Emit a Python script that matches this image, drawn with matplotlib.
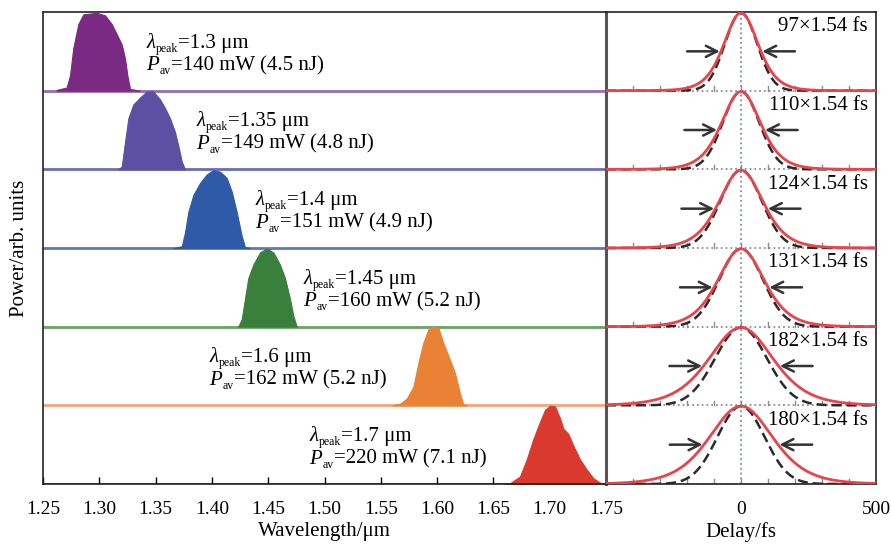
import numpy as np
import matplotlib
matplotlib.use("Agg")
import matplotlib.pyplot as plt
from matplotlib.transforms import offset_copy

plt.rcParams['font.family'] = ['Liberation Serif', 'DejaVu Serif']

# ---- spectra (wavelength in um, normalised power) ----
spec1_wl = [1.2622, 1.2710, 1.2740, 1.2769, 1.2814, 1.2858, 1.2977, 1.3051, 1.3110,
            1.3155, 1.3199, 1.3228, 1.3249, 1.3273, 1.3361]
spec1_p = [0.01, 0.04, 0.196, 0.543, 0.848, 0.97, 0.99, 0.957, 0.848,
           0.717, 0.587, 0.413, 0.196, 0.022, 0.0]

spec2_wl = [1.3169, 1.3199, 1.3228, 1.3258, 1.3302, 1.3361, 1.3421, 1.3480, 1.3539,
            1.3583, 1.3628, 1.3672, 1.3702, 1.3732, 1.3761]
spec2_p = [0.0, 0.035, 0.342, 0.649, 0.825, 0.912, 0.99, 0.99, 0.89,
           0.78, 0.649, 0.474, 0.298, 0.101, 0.0]

spec3_wl = [1.3657, 1.3732, 1.3761, 1.3790, 1.3835, 1.3894, 1.3954, 1.4012, 1.4072,
            1.4131, 1.4176, 1.4220, 1.4265, 1.4294, 1.4338]
spec3_p = [0.0, 0.022, 0.196, 0.457, 0.674, 0.826, 0.935, 0.99, 0.97,
           0.891, 0.717, 0.457, 0.152, 0.009, 0.0]

spec4_wl = [1.4234, 1.4265, 1.4294, 1.4323, 1.4368, 1.4427, 1.4487, 1.4546, 1.4604,
            1.4649, 1.4693, 1.4723, 1.4753]
spec4_p = [0.0, 0.096, 0.357, 0.617, 0.791, 0.943, 0.995, 0.943, 0.791,
           0.617, 0.357, 0.139, 0.0]

spec5_wl = [1.5608, 1.5671, 1.5730, 1.5789, 1.5833, 1.5877, 1.5922, 1.5952, 1.6011,
            1.6055, 1.6114, 1.6159, 1.6203, 1.6233, 1.6260]
spec5_p = [0.0, 0.021, 0.086, 0.236, 0.536, 0.794, 0.966, 0.995, 0.987,
           0.794, 0.579, 0.408, 0.15, 0.013, 0.0]

spec6_wl = [1.6600, 1.6647, 1.6736, 1.6796, 1.6855, 1.6914, 1.6958, 1.7003, 1.7047,
            1.7092, 1.7121, 1.7165, 1.7210, 1.7269, 1.7329, 1.7387, 1.7447, 1.7500]
spec6_p = [0.0, 0.009, 0.096, 0.313, 0.574, 0.791, 0.943, 0.995, 0.987,
           0.835, 0.704, 0.639, 0.487, 0.313, 0.183, 0.074, 0.017, 0.0]

spectra_wl = [spec1_wl, spec2_wl, spec3_wl, spec4_wl, spec5_wl, spec6_wl]
spectra_p = [spec1_p, spec2_p, spec3_p, spec4_p, spec5_p, spec6_p]

peak_wl = ["1.3", "1.35", "1.4", "1.45", "1.6", "1.7"]
avg_power = ["140", "149", "151", "160", "162", "220"]
pulse_energy = ["4.5", "4.8", "4.9", "5.2", "5.2", "7.1"]

# ---- autocorrelation traces ----
pulse_fs = [97, 110, 124, 131, 182, 180]       # deconvolved durations
deconv = 1.54                                   # sech^2 deconvolution factor
tl_fwhm_fs = [140, 158, 180, 190, 225, 205]     # transform-limited trace widths

wl_ticks = [1.25, 1.30, 1.35, 1.40, 1.45, 1.50, 1.55, 1.60, 1.65, 1.70, 1.75]
delay_ticks = [0, 500]

fill_colors = ['#7b2a83', '#5d50a3', '#2e5aa7', '#38803c', '#ea8236', '#da3a2d']
base_colors = ['#8f70b5', '#6c6ab9', '#5a78c4', '#6aa464', '#f2a778', '#da3a2d']

# text placement (left edge in um for each row)
label_x = [1.3415, 1.3860, 1.4384, 1.4810, 1.3975, 1.4863]

W, H = 891, 549
fig = plt.figure(figsize=(W / 100, H / 100), dpi=100)
left, right_edge, div = 43, 876, 606
top, bottom = 12, 484
axL = fig.add_axes([left / W, 1 - bottom / H, (div - left) / W, (bottom - top) / H])
axR = fig.add_axes([div / W, 1 - bottom / H, (right_edge - div) / W, (bottom - top) / H])
renderer = fig.canvas.get_renderer()

nrow = len(spectra_wl)
FS_TXT = 15
FS_SUB = 8.5


def run_text(ax, x, y, pieces):
    """Draw pieces (text, size, style, dy in px) one after another on a baseline."""
    dx = 0.0
    for s, fs, style, dy in pieces:
        tr = offset_copy(ax.transData, fig=fig, x=dx, y=dy, units='dots')
        t = ax.text(x, y, s, transform=tr, fontsize=fs, style=style,
                    ha='left', va='baseline')
        dx += t.get_window_extent(renderer).width + (1.0 if style == 'italic' else 0.0)


# ---- left panel: spectra ----
for i in range(nrow):
    b = nrow - 1 - i
    wl = np.array(spectra_wl[i])
    p = np.array(spectra_p[i])
    axL.axhline(b, color=base_colors[i], lw=2, zorder=1)
    axL.fill_between(wl, b, b + p, color=fill_colors[i], lw=0.8,
                     edgecolor=fill_colors[i], zorder=2)
    rt = b + 1
    run_text(axL, label_x[i], rt - 0.455,
             [('λ', FS_TXT, 'italic', 0), ('peak', FS_SUB, 'normal', -4),
              ('=' + peak_wl[i] + ' μm', FS_TXT, 'normal', 0)])
    run_text(axL, label_x[i], rt - 0.74,
             [('P', FS_TXT, 'italic', 0), ('av', FS_SUB, 'normal', -4),
              ('=' + avg_power[i] + ' mW (' + pulse_energy[i] + ' nJ)', FS_TXT, 'normal', 0)])

axL.set_xlim(1.25, 1.75)
axL.set_ylim(0, nrow)
axL.set_xticks(wl_ticks)
axL.set_xticklabels([f'{t:.2f}' for t in wl_ticks])
axL.set_yticks([])
axL.tick_params(axis='x', direction='in', length=5, width=1, labelsize=14, pad=12)
axL.spines['right'].set_visible(False)
for s in ['left', 'top', 'bottom']:
    axL.spines[s].set_linewidth(1.2)
    axL.spines[s].set_color('#222222')
axL.set_xlabel('Wavelength/μm', fontsize=15, labelpad=3)
axL.set_ylabel('Power/arb. units', fontsize=15, labelpad=10)

# ---- right panel: autocorrelation traces ----
t = np.linspace(-500, 500, 2001)
for i in range(nrow):
    b = nrow - 1 - i
    fwhm = pulse_fs[i] * deconv
    axR.axhline(b, color='#8c90a0', ls=':', lw=1.3, zorder=1)
    for tk in range(-400, 500, 100):
        axR.plot([tk, tk], [b, b + 0.06], color='#8c8c8c', lw=1, zorder=1)
    tl = np.exp(-4 * np.log(2) * t ** 2 / tl_fwhm_fs[i] ** 2)
    meas = 1 / np.cosh(1.7627 * t / fwhm) ** 2
    axR.plot(t, b + 0.99 * tl, color='#2a2a2a', lw=1.8, ls=(0, (4, 2)), zorder=3)
    axR.plot(t, b + 0.99 * meas, color='#e8444c', lw=2, zorder=4)
    hw = fwhm / 2
    y_half = b + 0.5
    arrow = dict(arrowstyle='->', lw=1.8, color='#333333', mutation_scale=20,
                 shrinkA=0, shrinkB=0)
    axR.annotate('', xy=(-hw - 4, y_half), xytext=(-hw - 125, y_half), arrowprops=arrow, zorder=5)
    axR.annotate('', xy=(hw + 4, y_half), xytext=(hw + 125, y_half), arrowprops=arrow, zorder=5)
    axR.text(0.97, b + 0.81, f'{pulse_fs[i]}×{deconv:.2f} fs', transform=axR.get_yaxis_transform(),
             fontsize=FS_TXT, ha='right', va='center', zorder=6)
axR.axvline(0, color='#7a8db0', ls=':', lw=1.3, zorder=2)

axR.set_xlim(-500, 500)
axR.set_ylim(0, nrow)
axR.set_xticks(delay_ticks)
axR.set_xticklabels([str(v) for v in delay_ticks])
axR.set_yticks([])
axR.tick_params(axis='x', direction='in', length=0, labelsize=14, pad=12)
for s in ['top', 'bottom', 'right']:
    axR.spines[s].set_linewidth(1.2)
    axR.spines[s].set_color('#222222')
axR.spines['left'].set_linewidth(2.2)
axR.spines['left'].set_color('#555555')
axR.set_xlabel('Delay/fs', fontsize=15, labelpad=3)

fig.savefig('out.png', dpi=100)
